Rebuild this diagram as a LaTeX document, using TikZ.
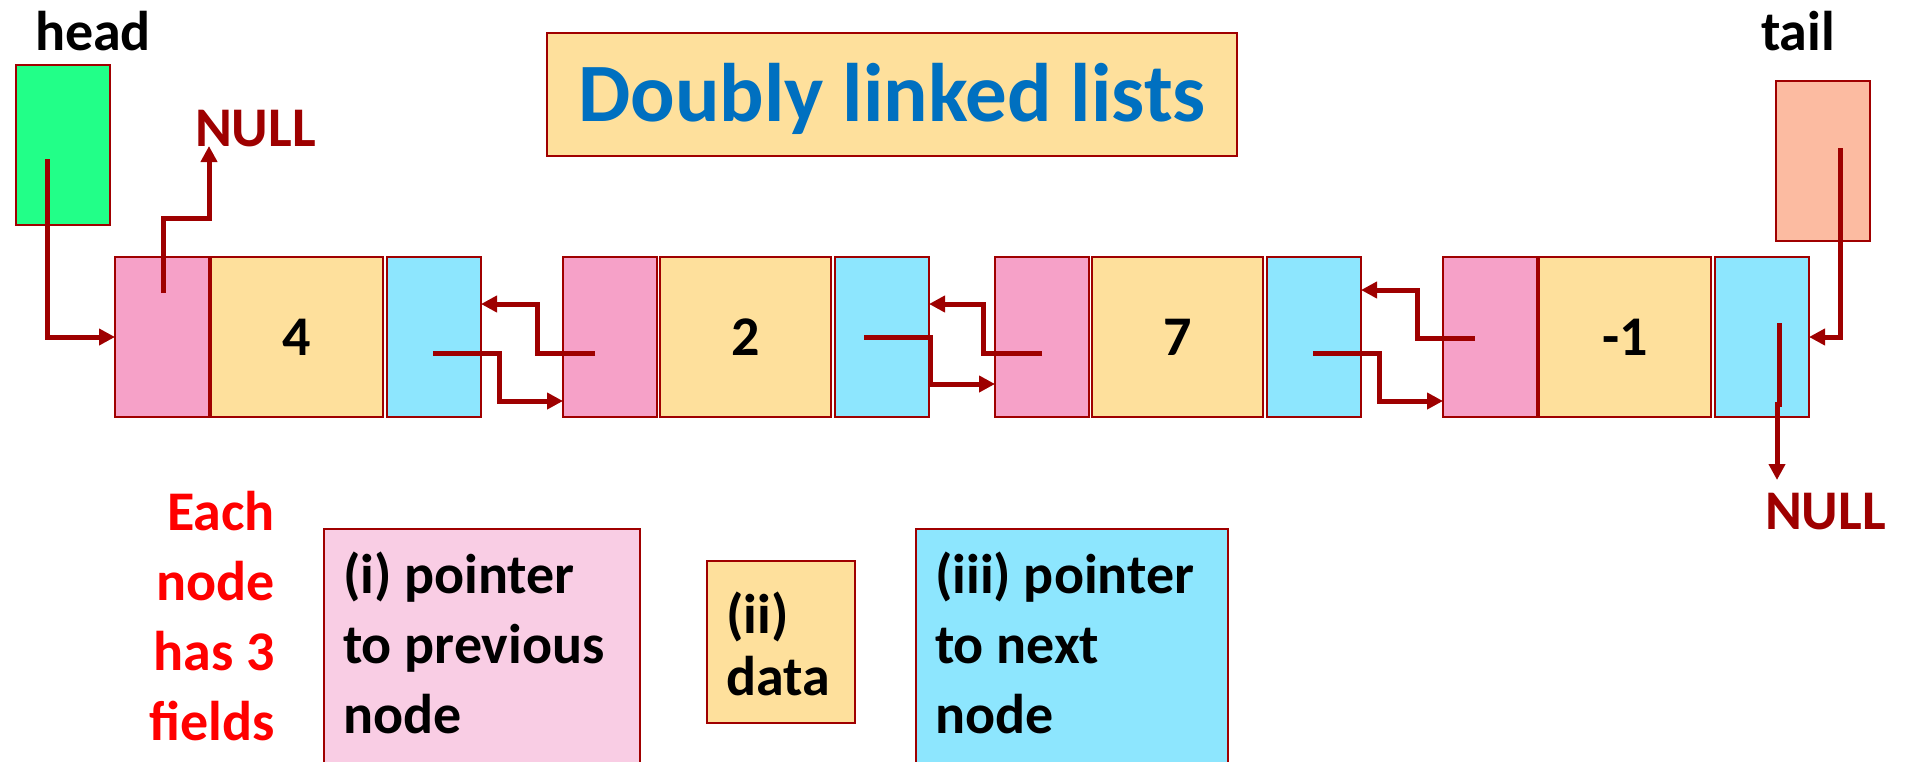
\documentclass[tikz,border=0pt]{standalone}
\usepackage{fontspec}
\setmainfont{Carlito}
\usetikzlibrary{arrows.meta,calc}
\definecolor{pk}{HTML}{F6A1C8}
\definecolor{dt}{HTML}{FEE09C}
\definecolor{bl}{HTML}{8DE6FE}
\definecolor{hg}{HTML}{22FF88}
\definecolor{tl}{HTML}{FCBBA1}
\definecolor{lp}{HTML}{F9CDE4}
\definecolor{bord}{HTML}{A00000}
\definecolor{arrc}{HTML}{9E0000}
\definecolor{ttl}{HTML}{0070C0}
\newcommand{\bigfont}{\fontsize{56}{70}\selectfont\bfseries}
\begin{document}
\begin{tikzpicture}[x=1pt,y=-1pt,
  box/.style={draw=bord, line width=2.5pt, inner sep=0pt, outer sep=0pt, anchor=north west, minimum height=160pt},
  pbox/.style={box, fill=pk, minimum width=94pt},
  dbox/.style={box, fill=dt, minimum width=172pt, font=\bigfont},
  nbox/.style={box, fill=bl, minimum width=94pt},
  legbox/.style={box, line width=2pt},
  arr/.style={draw=arrc, line width=5pt, -{Triangle[length=16pt,width=16pt]}},
  lbl/.style={inner sep=0pt, outer sep=0pt, font=\bigfont},
  ptxt/.style={inner sep=0pt, outer sep=0pt, anchor=base west}
]
\useasboundingbox (0,0) rectangle (1906,761);
\clip (0,0) rectangle (1906,761);

% title
\node[box, fill=dt, minimum width=690pt, minimum height=123pt, font=\fontsize{83}{90}\selectfont\bfseries, text=ttl, text height=53pt, text depth=0pt] (title) at (547,33) {Doubly linked lists};

% head / tail
\node[lbl, anchor=base west] (headl) at (35,50) {head};
\node[box, fill=hg, minimum width=94pt] (hd) at (16,65) {};
\node[lbl, anchor=base west] (taill) at (1761,50) {tail};
\node[box, fill=tl, minimum width=94pt] (tb) at (1776,81) {};

% list nodes
\node[pbox] (p1) at (115,257) {};
\node[dbox] (d1) at (211,257) {4};
\node[nbox] (b1) at (387,257) {};

\node[pbox] (p2) at (563,257) {};
\node[dbox, minimum width=171pt] (d2) at (660,257) {2};
\node[nbox] (b2) at (835,257) {};

\node[pbox] (p3) at (995,257) {};
\node[dbox, minimum width=171pt] (d3) at (1092,257) {7};
\node[nbox] (b3) at (1267,257) {};

\node[pbox] (p4) at (1443,257) {};
\node[dbox] (d4) at (1539,257) {-1};
\node[nbox] (b4) at (1715,257) {};

% NULL labels
\node[lbl, text=arrc, anchor=base west] (null1) at (195,146) {NULL};
\node[lbl, text=arrc, anchor=base west] (null2) at (1765,529) {NULL};

% connectors
\coordinate (hs) at (47,159);
\draw[arr] (hs) |- (p1.west);

\coordinate (pn1) at (163,293);
\draw[arr] (pn1) -- ++(0,-75) -- ++(46,0) -- (209,0 |- null1.base);

\coordinate (f1) at (433,353);
\draw[arr] (f1) -- ++(66,0) -- ++(0,48) -- (p2.west |- 0,401);
\coordinate (r2) at (595,353);
\draw[arr] (r2) -- ++(-58,0) -- ++(0,-49) -- (b1.east |- 0,304);

\coordinate (f2) at (864,337);
\draw[arr] (f2) -- ++(66,0) -- ++(0,47) -- (p3.west |- 0,384);
\coordinate (r3) at (1042,353);
\draw[arr] (r3) -- ++(-59,0) -- ++(0,-49) -- (b2.east |- 0,304);

\coordinate (f3) at (1313,353);
\draw[arr] (f3) -- ++(66,0) -- ++(0,48) -- (p4.west |- 0,401);
\coordinate (r4) at (1475,338);
\draw[arr] (r4) -- ++(-58,0) -- ++(0,-48) -- (b3.east |- 0,290);

\coordinate (ts) at (1840,148);
\draw[arr] (ts) |- (b4.east);

\coordinate (bn) at (1779,323);
\draw[arr] (bn) -- ++(0,81) -- ++(-2,0) -- ++(0,76);

% legend
\node[ptxt, anchor=base east, text=red] (each) at (275,530) {\parbox[t]{250pt}{\raggedleft\bigfont Each\\node\\has 3\\fields}};

\node[legbox, fill=lp, minimum width=316pt, minimum height=260pt] (legp) at (324,529) {};
\node[ptxt] (legpt) at (343,593) {\parbox[t]{290pt}{\raggedright\bigfont (i) pointer\\to previous\\node}};

\node[legbox, fill=dt, minimum width=148pt, minimum height=162pt] (legd) at (707,561) {};
\node[ptxt] (legdt) at (726,633) {\parbox[t]{130pt}{\raggedright\fontsize{56}{62}\selectfont\bfseries (ii)\\data}};

\node[legbox, fill=bl, minimum width=312pt, minimum height=260pt] (legb) at (916,529) {};
\node[ptxt] (legbt) at (935,593) {\parbox[t]{290pt}{\raggedright\bigfont (iii) pointer\\to next\\node}};
\end{tikzpicture}
\end{document}
